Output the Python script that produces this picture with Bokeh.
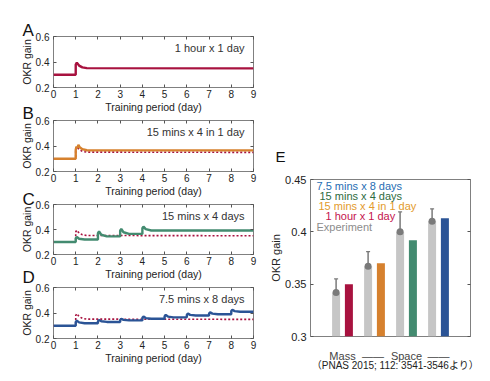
from bokeh.plotting import figure
from bokeh.layouts import row, column
from bokeh.models import (Range1d, LinearAxis, FixedTicker, Label, Whisker,
                          ColumnDataSource, TeeHead, Title)
from bokeh.transform import dodge
from bokeh.embed import file_html
from bokeh.resources import INLINE

FONT = "Liberation Sans"

# ---------------- data: simulated OKR gain time courses ----------------
# Panel A: 1 hour x 1 day (also the dotted reference curve in B-D)
a_day = [0, 1, 1, 1.05, 1.15, 1.3, 1.5, 9]
a_gain = [0.30, 0.30, 0.38, 0.395, 0.372, 0.358, 0.352, 0.350]

# Panel B: 15 mins x 4 in 1 day
b_day = [0, 1, 1, 1.04, 1.08, 1.12, 1.18, 1.3, 1.5, 9]
b_gain = [0.30, 0.30, 0.37, 0.395, 0.385, 0.41, 0.39, 0.375, 0.367, 0.366]

# Panel C: 15 mins x 4 days (one session per day)
c_session = [1, 2, 3, 4]
c_jump = [0.330, 0.370, 0.390, 0.410]
c_peak = [0.340, 0.384, 0.404, 0.423]
c_mid = [0.326, 0.358, 0.378, 0.403]
c_plateau = [0.320, 0.345, 0.365, 0.392]

# Panel D: 7.5 mins x 8 days
d_session = [1, 2, 3, 4, 5, 6, 7, 8]
d_jump = [0.330, 0.335, 0.345, 0.362, 0.375, 0.385, 0.395, 0.415]
d_peak = [0.340, 0.345, 0.355, 0.372, 0.385, 0.395, 0.405, 0.425]
d_mid = [0.326, 0.335, 0.346, 0.360, 0.372, 0.385, 0.395, 0.415]
d_plateau = [0.320, 0.330, 0.342, 0.355, 0.366, 0.380, 0.390, 0.410]

baseline_gain = 0.30
period_end = 9

panel_letters = ["A", "B", "C", "D"]
panel_titles = ["1 hour x 1 day", "15 mins x 4 in 1 day", "15 mins x 4 days", "7.5 mins x 8 days"]
x_ticks = [0, 1, 2, 3, 4, 5, 6, 7, 8, 9]
y_ticks = [0.2, 0.4, 0.6]

# ---------------- data: panel E ----------------
groups = [1, 2, 3, 4]
exp_mean = [0.342, 0.367, 0.400, 0.410]
exp_low = [0.330, 0.353, 0.382, 0.398]
exp_high = [0.355, 0.381, 0.419, 0.422]
model_gain = [0.350, 0.370, 0.392, 0.413]
e_ticks = [0.3, 0.35, 0.4, 0.45]
e_tick_labels = {0.3: "0.3", 0.35: "0.35", 0.4: "0.4", 0.45: "0.45"}
group_label_ticks = [1, 1.95, 3, 4]
group_labels = {1: "Mass", 1.95: "——", 3: "Space", 4: "——"}
legend_texts = ["7.5 mins x 8 days", "15 mins x 4 days", "15 mins x 4 in 1 day",
                "1 hour x 1 day", "Experiment"]
citation = "（PNAS 2015; 112: 3541-3546より）"
citation_tick = 2.875

# ---------------- styles ----------------
CRIMSON = "#a8123f"
ORANGE = "#d6812e"
GREEN = "#438b70"
BLUE = "#2b5496"
BAR_GRAY = "#c6c6c6"
DOT_GRAY = "#7a7a7a"
line_colors = [CRIMSON, ORANGE, GREEN, BLUE]
bar_colors = [CRIMSON, ORANGE, GREEN, BLUE]
legend_colors = ["#1f6db3", "#2e6b3e", "#e39a2c", "#c4124e", "#8c8c8c"]


def session_curve(sessions, jump, peak, mid, plateau):
    xs, ys = [0], [baseline_gain]
    prev = baseline_gain
    for t, j, pk, m, pl in zip(sessions, jump, peak, mid, plateau):
        xs += [t, t, t + 0.05, t + 0.15, t + 0.4]
        ys += [prev, j, pk, m, pl]
        prev = pl
    xs.append(period_end)
    ys.append(prev)
    return xs, ys


c_day, c_gain = session_curve(c_session, c_jump, c_peak, c_mid, c_plateau)
d_day, d_gain = session_curve(d_session, d_jump, d_peak, d_mid, d_plateau)
curves = [(a_day, a_gain), (b_day, b_gain), (c_day, c_gain), (d_day, d_gain)]


def style_axis(ax, size="10px", standoff=3):
    ax.axis_line_color = None
    ax.major_tick_in = 3
    ax.major_tick_out = 0
    ax.minor_tick_line_color = None
    ax.major_tick_line_color = "#555555"
    ax.major_label_text_font = FONT
    ax.major_label_text_font_size = size
    ax.major_label_text_color = "#222222"
    ax.major_label_standoff = standoff
    ax.axis_label_text_font = FONT
    ax.axis_label_text_font_style = "normal"
    ax.axis_label_text_color = "#222222"


def mirror_axis(p, ticks, side):
    ax = LinearAxis(ticker=FixedTicker(ticks=ticks))
    style_axis(ax)
    ax.major_label_overrides = {t: "" for t in ticks}
    ax.major_label_text_font_size = "1px"
    ax.major_label_standoff = 0
    p.add_layout(ax, side)


def letter(text, offset, standoff, size="17px"):
    return Title(text=text, align="left", offset=offset, standoff=standoff,
                 text_font=FONT, text_font_size=size, text_font_style="normal",
                 text_color="#111111")


# left column geometry: (top border, frame height, bottom border, css top margin)
left_geom = [(36, 51, 29, 0), (26, 51, 29, -22), (26, 50, 29, -22), (26, 51, 29, -22)]
letter_standoff = [-7, -4, -8, 1]

left_figs = []
for i, (top, fh, bot, mtop) in enumerate(left_geom):
    p = figure(width=263, height=top + fh + bot, x_range=Range1d(0, 9),
               y_range=Range1d(0.2, 0.6),
               output_backend="svg", toolbar_location=None, title=None,
               min_border_left=53, min_border_right=10,
               min_border_top=top, min_border_bottom=bot,
               margin=(mtop, 0, 0, 0))
    p.border_fill_color = None
    p.xgrid.grid_line_color = None
    p.ygrid.grid_line_color = None
    p.outline_line_color = "#808080"
    p.xaxis.ticker = FixedTicker(ticks=x_ticks)
    p.yaxis.ticker = FixedTicker(ticks=y_ticks)
    style_axis(p.xaxis[0], standoff=2)
    style_axis(p.yaxis[0], standoff=4)
    p.xaxis.axis_label = "Training period (day)"
    p.xaxis.axis_label_text_font_size = "10.5px"
    p.xaxis.axis_label_standoff = 0
    p.yaxis.axis_label = "OKR gain"
    p.yaxis.axis_label_text_font_size = "10.5px"
    p.yaxis.axis_label_standoff = 0
    mirror_axis(p, x_ticks, "above")
    mirror_axis(p, y_ticks, "right")
    p.add_layout(letter(panel_letters[i], -31, letter_standoff[i]), "above")

    if i > 0:
        p.line(a_day, a_gain, line_color=CRIMSON, line_width=1.6, line_dash="2 2")
    xs, ys = curves[i]
    p.line(xs, ys, line_color=line_colors[i], line_width=2.4)

    p.add_layout(Label(x=191, y=fh - 11, x_units="screen", y_units="screen",
                       text=panel_titles[i], text_align="right", text_baseline="middle",
                       text_font=FONT, text_font_size="11px", text_color="#333333"))
    left_figs.append(p)

# ---------------- panel E ----------------
src = ColumnDataSource(dict(group=groups, exp=exp_mean, low=exp_low, high=exp_high,
                            model=model_gain, color=bar_colors))
E_TOP, E_FRAME, E_BOT = 179, 158, 36
e = figure(width=219, height=E_TOP + E_FRAME + E_BOT, x_range=Range1d(0, 5),
           y_range=Range1d(0.3, 0.45),
           output_backend="svg", toolbar_location=None, title=None,
           min_border_left=47, min_border_right=12, min_border_top=E_TOP,
           min_border_bottom=E_BOT)
e.xgrid.grid_line_color = None
e.ygrid.grid_line_color = None
e.outline_line_color = "#808080"

e.vbar(x=dodge("group", -0.2, range=e.x_range), top="exp", bottom=0.3, width=0.25,
       source=src, fill_color=BAR_GRAY, line_color=None)
e.vbar(x=dodge("group", 0.2, range=e.x_range), top="model", bottom=0.3, width=0.25,
       source=src, fill_color="color", line_color=None)
e.add_layout(Whisker(base=dodge("group", -0.2, range=e.x_range), upper="high", lower="low",
                     source=src, line_color=DOT_GRAY, line_width=1.5,
                     upper_head=TeeHead(size=4, line_color=DOT_GRAY, line_width=1.2),
                     lower_head=TeeHead(size=4, line_color=DOT_GRAY, line_width=1.2)))
e.scatter(x=dodge("group", -0.2, range=e.x_range), y="exp", source=src, size=7,
          fill_color=DOT_GRAY, line_color=None)

e.yaxis.ticker = FixedTicker(ticks=e_ticks)
e.yaxis.major_label_overrides = e_tick_labels
style_axis(e.yaxis[0], size="11px", standoff=4)
e.yaxis.axis_label = "OKR gain"
e.yaxis.axis_label_text_font_size = "11px"
e.yaxis.axis_label_standoff = 0
mirror_axis(e, e_ticks, "right")

e.xaxis.ticker = FixedTicker(ticks=group_label_ticks)
e.xaxis.major_label_overrides = group_labels
style_axis(e.xaxis[0], size="11px", standoff=13)
e.xaxis.major_label_text_color = "#444444"
e.xaxis.major_tick_line_color = None

cite_axis = LinearAxis(ticker=FixedTicker(ticks=[citation_tick]))
style_axis(cite_axis, size="10px", standoff=-5)
cite_axis.major_label_overrides = {citation_tick: citation}
cite_axis.major_label_text_font = "Liberation Sans, Noto Sans CJK JP"
cite_axis.major_tick_line_color = None
e.add_layout(cite_axis, "below")

legend_x = [6, 9, 8, 15, 6]
for k, (txt, col) in enumerate(zip(legend_texts, legend_colors)):
    e.add_layout(Label(x=legend_x[k], y=E_FRAME - 7 - k * 10.3, x_units="screen",
                       y_units="screen", text=txt, text_align="left",
                       text_baseline="middle", text_font=FONT, text_font_size="11px",
                       text_color=col))

e.add_layout(letter("E", -35, 29, size="15px"), "above")

layout = row(column(*left_figs), e)
open("out.html", "w").write(file_html(layout, INLINE))
